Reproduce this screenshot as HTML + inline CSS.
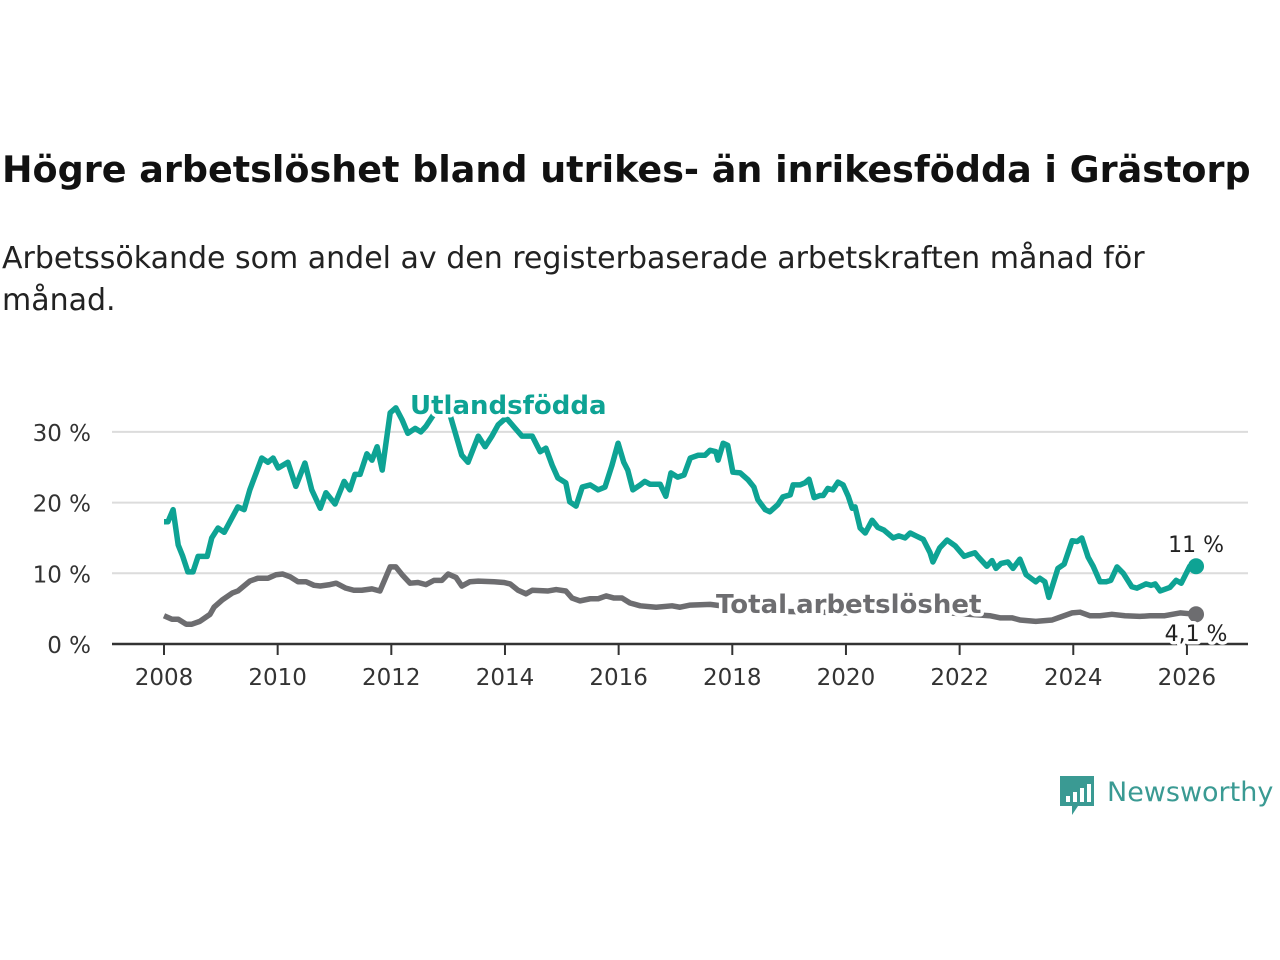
<!DOCTYPE html>
<html><head><meta charset="utf-8"><style>
body{margin:0;background:#fff;width:1280px;height:960px;overflow:hidden;font-family:"DejaVu Sans","Liberation Sans",sans-serif;}
#title{position:absolute;left:2px;top:148px;font-size:36.5px;font-weight:bold;color:#111;margin:0;white-space:nowrap;}
#sub{position:absolute;left:2px;top:238px;font-size:30px;color:#222;line-height:42px;width:1180px;margin:0}
svg{position:absolute;left:0;top:0}
</style></head><body>
<h1 id="title">Högre arbetslöshet bland utrikes- än inrikesfödda i Grästorp</h1>
<p id="sub">Arbetssökande som andel av den registerbaserade arbetskraften månad för månad.</p>
<svg id="chart" width="1280" height="960"></svg>
<script>
const yTicks=[0,10,20,30];
const yTickLabels=["0 %","10 %","20 %","30 %"];
const xTicks=[2008,2010,2012,2014,2016,2018,2020,2022,2024,2026];
const foreignDates=[2008.00,2008.07,2008.16,2008.25,2008.33,2008.42,2008.51,2008.60,2008.76,2008.84,2008.95,2009.06,2009.16,2009.30,2009.41,2009.51,2009.72,2009.83,2009.92,2010.01,2010.18,2010.32,2010.48,2010.60,2010.75,2010.85,2011.01,2011.17,2011.27,2011.36,2011.45,2011.57,2011.66,2011.75,2011.84,2011.98,2012.08,2012.19,2012.29,2012.42,2012.52,2012.61,2012.79,2013.03,2013.24,2013.35,2013.53,2013.65,2013.77,2013.88,2014.02,2014.18,2014.30,2014.48,2014.62,2014.72,2014.83,2014.93,2015.07,2015.14,2015.25,2015.36,2015.50,2015.64,2015.76,2015.88,2015.99,2016.09,2016.16,2016.25,2016.38,2016.46,2016.55,2016.73,2016.83,2016.92,2017.04,2017.15,2017.26,2017.40,2017.52,2017.61,2017.71,2017.75,2017.84,2017.92,2018.01,2018.14,2018.28,2018.38,2018.45,2018.58,2018.66,2018.80,2018.89,2019.02,2019.07,2019.19,2019.28,2019.35,2019.44,2019.54,2019.60,2019.68,2019.77,2019.86,2019.95,2020.04,2020.11,2020.16,2020.25,2020.34,2020.46,2020.56,2020.67,2020.83,2020.93,2021.04,2021.13,2021.23,2021.36,2021.48,2021.53,2021.65,2021.78,2021.92,2022.08,2022.15,2022.27,2022.32,2022.48,2022.57,2022.64,2022.73,2022.85,2022.94,2023.06,2023.17,2023.34,2023.41,2023.50,2023.57,2023.73,2023.84,2023.98,2024.07,2024.15,2024.26,2024.35,2024.47,2024.58,2024.66,2024.77,2024.88,2025.03,2025.12,2025.28,2025.37,2025.44,2025.53,2025.70,2025.81,2025.90,2026.05,2026.16];
const foreignValues=[17.3,17.3,19,14,12.4,10.2,10.2,12.4,12.4,15,16.4,15.8,17.3,19.4,19,21.8,26.3,25.7,26.3,24.9,25.7,22.3,25.6,21.8,19.2,21.4,19.8,23,21.8,24,24,26.9,26,27.9,24.6,32.7,33.4,31.7,29.8,30.5,30,30.8,33,32.5,26.7,25.7,29.4,27.9,29.4,31,32,30.5,29.4,29.4,27.2,27.7,25.3,23.5,22.8,20.1,19.5,22.2,22.5,21.8,22.2,25.2,28.4,25.7,24.6,21.8,22.5,23,22.6,22.6,20.9,24.2,23.6,23.9,26.3,26.7,26.7,27.4,27.2,26,28.4,28.1,24.3,24.2,23.2,22.2,20.4,19,18.7,19.7,20.8,21.1,22.5,22.5,22.8,23.3,20.7,21,21,22,21.8,22.9,22.5,20.9,19.2,19.4,16.4,15.7,17.5,16.5,16.1,15,15.3,15,15.7,15.3,14.8,12.9,11.6,13.6,14.7,13.9,12.4,12.6,12.9,12.4,11,11.8,10.7,11.4,11.6,10.7,12,9.8,8.8,9.3,8.8,6.6,10.7,11.3,14.6,14.5,15,12.3,11,8.8,8.8,9,10.9,10,8.1,7.9,8.5,8.3,8.5,7.5,8,9,8.6,11,11];
const totalDates=[2008.00,2008.14,2008.25,2008.39,2008.49,2008.63,2008.81,2008.88,2009.02,2009.20,2009.30,2009.51,2009.65,2009.83,2009.97,2010.09,2010.22,2010.36,2010.50,2010.64,2010.75,2010.92,2011.03,2011.20,2011.34,2011.48,2011.66,2011.80,2011.98,2012.08,2012.19,2012.33,2012.47,2012.61,2012.75,2012.89,2013.00,2013.14,2013.24,2013.38,2013.53,2013.81,2013.98,2014.09,2014.23,2014.37,2014.48,2014.76,2014.90,2015.07,2015.18,2015.32,2015.50,2015.64,2015.78,2015.92,2016.06,2016.20,2016.38,2016.66,2016.94,2017.08,2017.26,2017.61,2018.0,2018.5,2019.0,2019.5,2020.0,2020.5,2021.0,2021.5,2022.0,2022.53,2022.71,2022.92,2023.06,2023.34,2023.63,2023.77,2023.98,2024.12,2024.29,2024.47,2024.68,2024.91,2025.17,2025.35,2025.61,2025.88,2026.16];
const totalValues=[4,3.5,3.5,2.8,2.8,3.2,4.2,5.2,6.2,7.2,7.5,8.9,9.3,9.3,9.8,9.9,9.5,8.8,8.8,8.3,8.2,8.4,8.6,7.9,7.6,7.6,7.8,7.5,10.9,10.9,9.8,8.6,8.7,8.4,9,9,9.9,9.4,8.2,8.8,8.9,8.8,8.7,8.5,7.6,7.1,7.6,7.5,7.7,7.5,6.5,6.1,6.4,6.4,6.8,6.5,6.5,5.8,5.4,5.2,5.4,5.2,5.5,5.6,5.2,4.8,4.6,4.5,4.4,5.2,5,4.6,4.3,4,3.7,3.7,3.4,3.2,3.4,3.8,4.4,4.5,4,4,4.2,4,3.9,4,4,4.4,4.2];
const lastLabels=["11 %","4,1 %"];

const NS="http://www.w3.org/2000/svg";
const svg=document.getElementById('chart');
const X=y=>164+(y-2008)*56.83;
const Y=v=>644-v*7.07;
function el(t,a,p){const e=document.createElementNS(NS,t);for(const k in a)e.setAttribute(k,a[k]);(p||svg).appendChild(e);return e;}
const TEAL="#0ea394",GRAY="#6d6d70";
yTicks.forEach((v,i)=>{
  if(v>0){const g=el('line',{x1:112,x2:1248,y1:Y(v),y2:Y(v),stroke:'#dcdcdc','stroke-width':2});
  
  }
  const t=el('text',{x:91,y:Y(v)+9,'text-anchor':'end','font-size':23,fill:'#333'});t.textContent=yTickLabels[i];
  
  
});
const ax=el('line',{x1:112,x2:1248,y1:644,y2:644,stroke:'#333','stroke-width':2.5});


xTicks.forEach(yr=>{
  const tk=el('line',{x1:X(yr),x2:X(yr),y1:644,y2:655,stroke:'#333','stroke-width':2});
  
  
  const t=el('text',{x:X(yr),y:685,'text-anchor':'middle','font-size':23,fill:'#333'});t.textContent=yr;
  
  
});
function line(d,v,c,name){
  const p=el('polyline',{points:d.map((x,i)=>X(x)+','+Y(v[i])).join(' '),fill:'none',stroke:c,'stroke-width':5.5,'stroke-linejoin':'round'});
  
  
  const n=d.length-1;
  const c1=el('circle',{cx:X(d[n]),cy:Y(v[n]),r:8,fill:c});
  
  
}
line(totalDates,totalValues,GRAY,'total-line');
line(foreignDates,foreignValues,TEAL,'foreign-born-line');
function lab(x,y,txt,c,sz,w,anchor,name){
  const t=el('text',{x:x,y:y,'font-size':sz,'font-weight':w,fill:c,'text-anchor':anchor,stroke:'#fff','stroke-width':7,'paint-order':'stroke','stroke-linejoin':'round'});
  t.textContent=txt;
  
  
}
lab(410,414,'Utlandsfödda',TEAL,26,'bold','start','foreign-born-label');
lab(716,613,'Total arbetslöshet',GRAY,26,'bold','start','total-label');
lab(X(foreignDates[foreignDates.length-1]),552,lastLabels[0],'#222',22,'normal','middle','foreign-last-value');
lab(X(totalDates[totalDates.length-1]),641,lastLabels[1],'#222',22,'normal','middle','total-last-value');
const lg=el('g',{});


el('path',{d:'M1060 776 h34 v30 h-16 l-6 9 v-9 h-12 z',fill:'#3a9a93'},lg);
[[1066,796,6],[1073,792,10],[1080,788,14],[1087,784,18]].forEach(b=>el('rect',{x:b[0],y:b[1],width:4,height:b[2],fill:'#fff'},lg));
const lt=el('text',{x:1107,y:801,'font-size':27,fill:'#3a9a93'},lg);lt.textContent='Newsworthy';
</script>
</body></html>
